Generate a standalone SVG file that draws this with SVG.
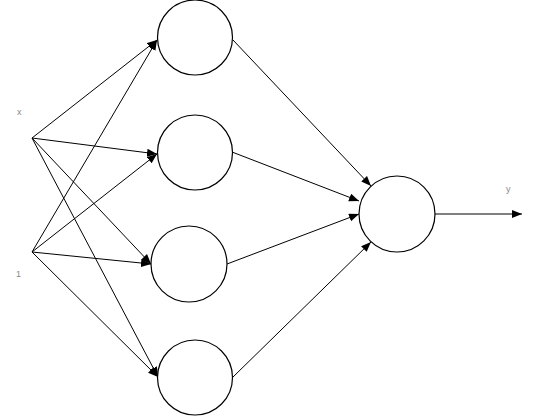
<svg xmlns="http://www.w3.org/2000/svg" width="535" height="416" viewBox="0 0 535 416">
<style>
.node{fill:#fff;stroke:#000;stroke-width:1.2}
.edge{stroke:#000;stroke-width:1;fill:none;marker-end:url(#ah)}
.lbl{font-family:"Liberation Sans",sans-serif;font-size:9px;fill:#888}
</style>
<defs>
<marker id="ah" markerUnits="userSpaceOnUse" markerWidth="11" markerHeight="9" refX="10" refY="4" orient="auto">
<path d="M0,0 L10,4 L0,8 Z" fill="#000"/>
</marker>
</defs>
<rect width="535" height="416" fill="#fff"/>
<g id="connectors">
<line class="edge" x1="32" y1="138" x2="157" y2="40"/>
<line class="edge" x1="32" y1="138" x2="157" y2="154"/>
<line class="edge" x1="32" y1="138" x2="151" y2="264"/>
<line class="edge" x1="32" y1="138" x2="158" y2="377"/>
<line class="edge" x1="32" y1="252" x2="157" y2="40"/>
<line class="edge" x1="32" y1="252" x2="157" y2="154"/>
<line class="edge" x1="32" y1="252" x2="151" y2="264"/>
<line class="edge" x1="32" y1="252" x2="158" y2="377"/>
<line class="edge" x1="233" y1="40" x2="371" y2="186"/>
<line class="edge" x1="232" y1="152" x2="359" y2="201"/>
<line class="edge" x1="227" y1="264" x2="359" y2="214"/>
<line class="edge" x1="233" y1="377" x2="371" y2="242"/>
<line class="edge" x1="434" y1="214" x2="522" y2="214"/>
</g>
<g id="h1"><circle class="node" cx="195" cy="37.5" r="37.5"/></g>
<g id="h2"><circle class="node" cx="195" cy="152.5" r="37.5"/></g>
<g id="h3"><circle class="node" cx="189" cy="264" r="38"/></g>
<g id="h4"><circle class="node" cx="195" cy="377.5" r="37.5"/></g>
<g id="out"><circle class="node" cx="397" cy="214" r="38"/></g>
<g id="lx"><text class="lbl" x="17" y="115">x</text></g>
<g id="l1"><text class="lbl" x="16" y="277">1</text></g>
<g id="ly"><text class="lbl" x="506" y="192">y</text></g>
</svg>
